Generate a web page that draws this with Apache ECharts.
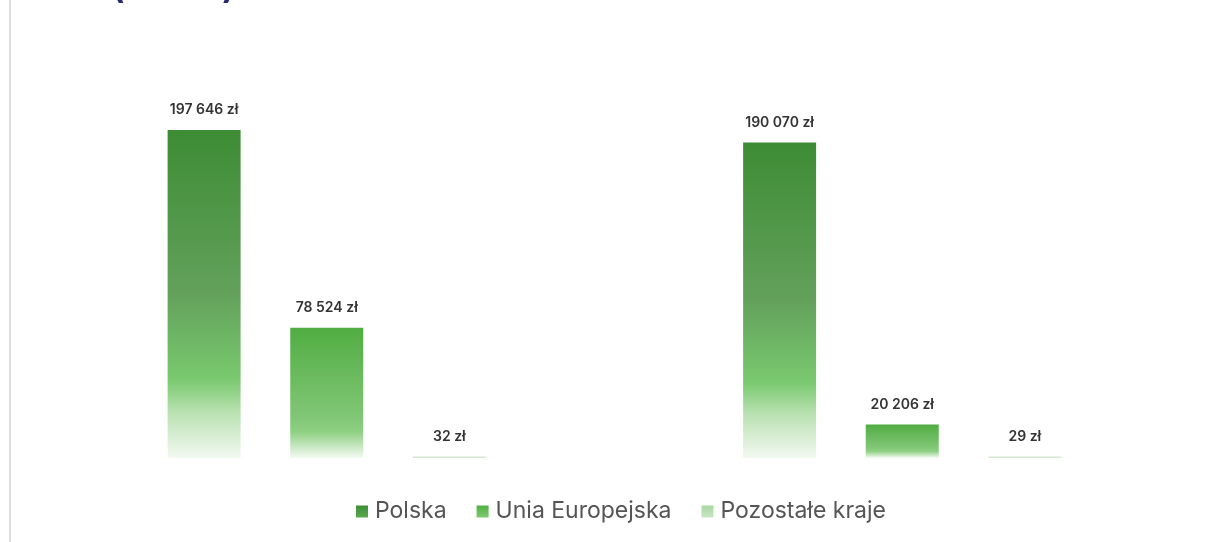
<!DOCTYPE html>
<html>
<head>
<meta charset="utf-8">
<script src="https://cdn.jsdelivr.net/npm/echarts@6/dist/echarts.min.js"></script>
<style>
html,body{margin:0;padding:0;background:#fff;}
#chart{width:1209px;height:542px;}
</style>
</head>
<body>
<div id="chart"></div>
<script>
const categories = ['Grupa 1', 'Grupa 2'];
const seriesNames = ['Polska', 'Unia Europejska', 'Pozostałe kraje'];
const polska = [197646, 190070];
const unia = [78524, 20206];
const pozostale = [32, 29];
const titleText = '(brutto)';

function fmt(v) {
  return String(v).replace(/\B(?=(\d{3})+(?!\d))/g, ' ') + ' zł';
}
function grad(stops) {
  return new echarts.graphic.LinearGradient(0, 0, 0, 1, stops.map(s => ({offset: s[0], color: s[1]})));
}
const colPolska = grad([[0,'#3d8c35'],[0.5,'#63a15b'],[0.76,'#79c96f'],[0.86,'#b9e1b1'],[1,'#f3f9f2']]);
const colUnia = grad([[0,'#51ad42'],[0.7,'#82c777'],[0.8,'#8fd083'],[1,'#f4faf3']]);
const colPoz = '#d3e9cf';

const label = {
  show: true, position: 'top', distance: 13,
  fontFamily: 'Inter', fontSize: 14, fontWeight: 600, color: '#333',
  formatter: p => fmt(p.value)
};

const chart = echarts.init(document.getElementById('chart'), null, {renderer: 'canvas'});
chart.setOption({
  animation: false,
  backgroundColor: '#fff',
  graphic: [
    {type: 'rect', left: 9, top: 0, shape: {width: 2, height: 542}, style: {fill: '#dedede'}},
    {type: 'text', style: {x: 112, y: 5, text: titleText, fill: '#2b2a6b', font: 'bold 33px Inter', verticalAlign: 'bottom'}}
  ],
  grid: {left: 39, right: 19, top: 126, bottom: 84, containLabel: false},
  legend: {
    data: [
      {name: seriesNames[0], itemStyle: {color: grad([[0,'#3e8e38'],[1,'#5aa852']])}},
      {name: seriesNames[1], itemStyle: {color: grad([[0,'#4fb043'],[1,'#7fcb72']])}},
      {name: seriesNames[2], itemStyle: {color: grad([[0,'#a9d6a3'],[1,'#c8e6c4']])}}
    ],
    left: 351, top: 495,
    icon: 'rect', itemWidth: 12, itemHeight: 12, itemGap: 30,
    textStyle: {fontFamily: 'Inter', fontSize: 23, color: '#555', padding: [0,0,0,2]}
  },
  xAxis: {
    type: 'category', data: categories,
    axisLine: {show: false}, axisTick: {show: false}, axisLabel: {show: false}
  },
  yAxis: {
    type: 'value', min: 0, max: 200000,
    show: false, splitLine: {show: false}
  },
  series: [
    {name: seriesNames[0], type: 'bar', data: polska, barWidth: 73, barGap: '68%', itemStyle: {color: colPolska}, label: label},
    {name: seriesNames[1], type: 'bar', data: unia, barWidth: 73, barGap: '68%', itemStyle: {color: colUnia}, label: label},
    {name: seriesNames[2], type: 'bar', data: pozostale, barWidth: 73, barGap: '68%', barMinHeight: 1.5, itemStyle: {color: colPoz}, label: label}
  ]
});
</script>
</body>
</html>
